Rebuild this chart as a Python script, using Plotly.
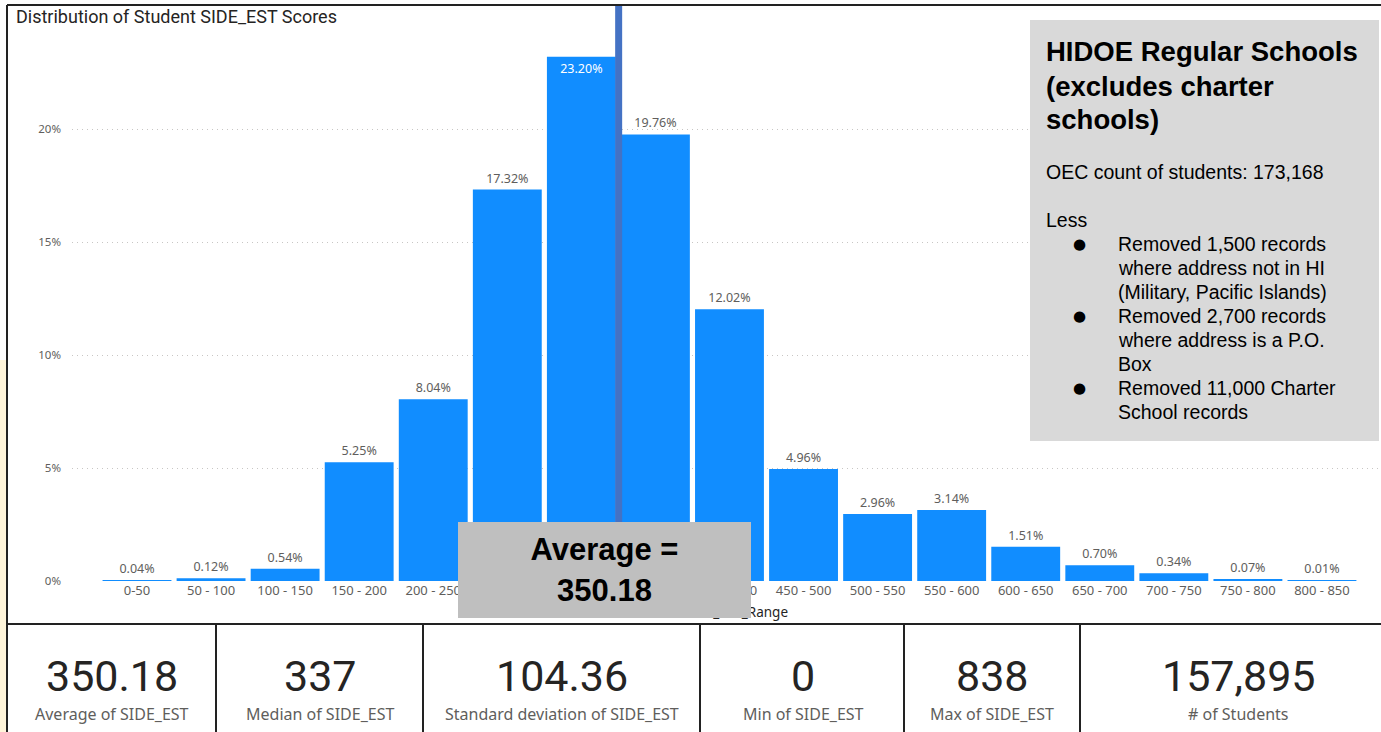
import plotly.graph_objects as go

W, H = 1381, 732

categories = ["0-50", "50 - 100", "100 - 150", "150 - 200", "200 - 250", "250 - 300",
              "300 - 350", "350 - 400", "400 - 450", "450 - 500", "500 - 550", "550 - 600",
              "600 - 650", "650 - 700", "700 - 750", "750 - 800", "800 - 850"]
pct_students = [0.04, 0.12, 0.54, 5.25, 8.04, 17.32, 23.20, 19.76, 12.02, 4.96, 2.96,
                3.14, 1.51, 0.70, 0.34, 0.07, 0.01]
y_ticks = [0, 5, 10, 15, 20]
y_tick_labels = ["0%", "5%", "10%", "15%", "20%"]
average_score = 350.18
bin_width = 50

kpi_values = ["350.18", "337", "104.36", "0", "838", "157,895"]
kpi_labels = ["Average of SIDE_EST", "Median of SIDE_EST", "Standard deviation of SIDE_EST",
              "Min of SIDE_EST", "Max of SIDE_EST", "# of Students"]

note_title = ["HIDOE Regular Schools", "(excludes charter", "schools)"]
note_count = "OEC count of students: 173,168"
note_less = "Less"
note_bullets = [["Removed 1,500 records", "where address not in HI", "(Military, Pacific Islands)"],
                ["Removed 2,700 records", "where address is a P.O.", "Box"],
                ["Removed 11,000 Charter", "School records"]]


def px(x):
    return x / W


def py(y):
    return 1 - y / H


BLUE = "#118DFF"
GRAY_TXT = "#605E5C"
DARK_TXT = "#252423"
ARIAL = "Liberation Sans, Arial"

max_i = pct_students.index(max(pct_students))
positions = ["inside" if i == max_i else "outside" for i in range(len(pct_students))]
label_colors = ["#FFFFFF" if i == max_i else GRAY_TXT for i in range(len(pct_students))]

fig = go.Figure()
fig.add_trace(go.Bar(
    x=categories, y=pct_students,
    marker=dict(color=BLUE, line=dict(width=0)),
    texttemplate="%{y:.2f}%", textposition=positions,
    insidetextanchor="end",
    textfont=dict(color=label_colors, size=12.5, family="Noto Sans"),
    cliponaxis=False, hoverinfo="skip",
))

shapes = []
annotations = []

# left cream strip
shapes.append(dict(type="rect", xref="paper", yref="paper", x0=0, x1=px(6), y0=py(732), y1=py(360),
                   fillcolor="#FFF5DA", line=dict(width=0), layer="below"))

# average line
avg_x = average_score / bin_width - 0.5
shapes.append(dict(type="line", xref="x", yref="paper", x0=avg_x, x1=avg_x, y0=py(581), y1=py(5),
                   line=dict(color="#4472C4", width=7), layer="above"))

# panel borders
shapes.append(dict(type="line", xref="paper", yref="paper", x0=px(7), x1=px(7), y0=0, y1=py(5),
                   line=dict(color="#222222", width=2)))
shapes.append(dict(type="line", xref="paper", yref="paper", x0=px(7), x1=1, y0=py(5), y1=py(5),
                   line=dict(color="#222222", width=2)))
shapes.append(dict(type="line", xref="paper", yref="paper", x0=px(7), x1=1, y0=py(624), y1=py(624),
                   line=dict(color="#222222", width=2)))
for xd in [216, 423, 700, 904, 1080]:
    shapes.append(dict(type="line", xref="paper", yref="paper", x0=px(xd), x1=px(xd), y0=0, y1=py(624),
                       line=dict(color="#222222", width=2)))

# x axis title (partly hidden behind the average box, as in the original)
annotations.append(dict(text="SIDE_EST_Range", xref="paper", yref="paper", x=px(790), y=py(612),
                        showarrow=False, xanchor="right", yanchor="middle",
                        font=dict(family="Noto Sans", size=13.5, color=DARK_TXT)))

# average box (drawn after the axis title so it covers it)
annotations.append(dict(text="<b>Average =<br>%.2f</b>" % average_score, xref="paper", yref="paper",
                        x=px(458), y=py(522), xanchor="left", yanchor="top",
                        width=293, height=96, bgcolor="#BFBFBF", borderpad=0, borderwidth=0,
                        showarrow=False, align="center", valign="middle",
                        font=dict(family=ARIAL, size=31, color="#000000")))

# note box
shapes.append(dict(type="rect", xref="paper", yref="paper", x0=px(1030), x1=px(1379), y0=py(441), y1=py(20),
                   fillcolor="#D9D9D9", line=dict(width=0), layer="above"))
for i, t in enumerate(note_title):
    annotations.append(dict(text="<b>%s</b>" % t, xref="paper", yref="paper", x=px(1044), y=py(52 + 34 * i),
                            showarrow=False, xanchor="left", yanchor="middle",
                            font=dict(family=ARIAL, size=27.5, color="#000000")))
annotations.append(dict(text=note_count, xref="paper", yref="paper", x=px(1044), y=py(172),
                        showarrow=False, xanchor="left", yanchor="middle",
                        font=dict(family=ARIAL, size=19.5, color="#000000")))
annotations.append(dict(text=note_less, xref="paper", yref="paper", x=px(1044), y=py(220),
                        showarrow=False, xanchor="left", yanchor="middle",
                        font=dict(family=ARIAL, size=19.5, color="#000000")))
yl = 244
for item in note_bullets:
    annotations.append(dict(text="●", xref="paper", yref="paper", x=px(1079), y=py(yl),
                            showarrow=False, xanchor="center", yanchor="middle",
                            font=dict(family="DejaVu Sans", size=15, color="#000000")))
    for line in item:
        annotations.append(dict(text=line, xref="paper", yref="paper", x=px(1116), y=py(yl),
                                showarrow=False, xanchor="left", yanchor="middle",
                                font=dict(family=ARIAL, size=19.5, color="#000000")))
        yl += 24

# title
annotations.append(dict(text="Distribution of Student SIDE_EST Scores", xref="paper", yref="paper",
                        x=px(14), y=py(17), showarrow=False, xanchor="left", yanchor="middle",
                        font=dict(family="Roboto", size=18, color=DARK_TXT)))

# KPI cards
centers = [112, 320, 562, 803, 992, 1238]
for c, v, l in zip(centers, kpi_values, kpi_labels):
    annotations.append(dict(text=v, xref="paper", yref="paper", x=px(c), y=py(676),
                            showarrow=False, xanchor="center", yanchor="middle",
                            font=dict(family="Roboto", size=43, color=DARK_TXT)))
    annotations.append(dict(text=l, xref="paper", yref="paper", x=px(c), y=py(714),
                            showarrow=False, xanchor="center", yanchor="middle",
                            font=dict(family="Noto Sans", size=16, color=GRAY_TXT)))

x_left = (72 - 137) / 74.06
x_right = (1381 - 137) / 74.06

fig.update_layout(
    width=W, height=H,
    margin=dict(l=0, r=0, t=0, b=0, pad=0, autoexpand=False),
    paper_bgcolor="#FFFFFF", plot_bgcolor="rgba(0,0,0,0)",
    showlegend=False,
    bargap=0.07,
    xaxis=dict(domain=[px(72), 1], range=[x_left, x_right], type="category", automargin=False,
               showgrid=False, zeroline=False, showline=False, ticks="",
               tickfont=dict(family="Noto Sans", size=13, color=GRAY_TXT)),
    yaxis=dict(domain=[py(581), py(16)], range=[0, 25], tickmode="array", automargin=False,
               tickvals=y_ticks, ticktext=y_tick_labels,
               showgrid=True, gridcolor="#C8C6C4", griddash="1px,4px", gridwidth=1,
               zeroline=False, showline=False, ticks="", ticklabelstandoff=10,
               tickfont=dict(family="Noto Sans", size=11.5, color=GRAY_TXT)),
    shapes=shapes, annotations=annotations,
)

post = (
    "document.documentElement.style.margin='0';"
    "document.body.style.margin='0';"
    "document.body.style.overflow='hidden';"
    "document.documentElement.style.overflow='hidden';"
    "var gd=document.querySelector('.plotly-graph-div');"
    "gd.style.position='fixed';gd.style.top='0';gd.style.left='0';"
)
fig.write_html("out.html", post_script=post)
